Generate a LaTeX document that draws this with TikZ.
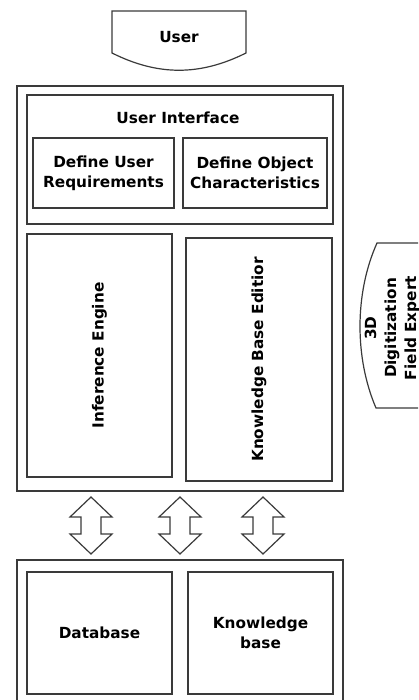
\documentclass[tikz,border=0pt]{standalone}
\usepackage{fontspec}
\setmainfont{DejaVu Sans}
\definecolor{lc}{HTML}{3A3A3A}
\tikzset{
  box/.style={draw=lc, line width=1.2pt, inner sep=0pt, fill=white},
  lbl/.style={font=\bfseries\fontsize{15.3}{20}\selectfont, align=center, text=black},
  outline/.style={draw=lc, line width=1.2pt, line join=miter},
  updown/.pic={
    \draw[outline, fill=white] (0,-28.5) -- (21,-8.5) -- (10,-8.5) -- (10,8.5) -- (21,8.5)
      -- (0,28.5) -- (-21,8.5) -- (-10,8.5) -- (-10,-8.5) -- (-21,-8.5) -- cycle;
  }
}
\begin{document}
\begin{tikzpicture}[x=1pt,y=-1pt]
\useasboundingbox (0,0) rectangle (418,700);
\clip (0,0) rectangle (418,700);

% user terminal at the top
\draw[outline] (112,11) -- (246,11) -- (246,53)
  .. controls (200,76) and (158,76) .. (112,53) -- cycle;
\node[lbl] (user) at (179,37) {User};

% upper system block
\node[box, minimum width=326pt, minimum height=405pt] (sys) at (180,288.5) {};
\node[box, minimum width=306pt, minimum height=129pt] (ui) at (180,159.5) {};
\node[lbl] (uititle) at (178,118) {User Interface};
\node[box, lbl, minimum width=141pt, minimum height=70pt] (req) at (103.5,173) {Define User\\Requirements};
\node[box, lbl, minimum width=144pt, minimum height=70pt] (obj) at (255,173) {Define Object\\Characteristics};
\node[box, lbl, minimum width=145pt, minimum height=243pt] (inf) at (99.5,355.5) {\rotatebox{90}{Inference Engine}};
\node[box, lbl, minimum width=146pt, minimum height=243pt] (kbe) at (259,359.5) {\rotatebox{90}{Knowledge Base Editior}};

% expert terminal on the right, open towards the page edge
\draw[outline] (440,243) -- (377,243)
  .. controls (354.5,293) and (354.5,358) .. (376,408) -- (440,408);
\node[lbl, rotate=90] (expert) at (392,328) {3D\\Digitization\\Field Expert};

% lower data block
\node[box, minimum width=326pt, minimum height=150pt] (store) at (180,635) {};
\node[box, lbl, minimum width=145pt, minimum height=122pt] (db) at (99.5,633) {Database};
\node[box, lbl, minimum width=145pt, minimum height=122pt] (kb) at (260.5,633) {Knowledge\\base};

% two-way exchange between the blocks
\pic at (91,525.5) {updown};
\pic at (180,525.5) {updown};
\pic at (263,525.5) {updown};
\end{tikzpicture}
\end{document}
